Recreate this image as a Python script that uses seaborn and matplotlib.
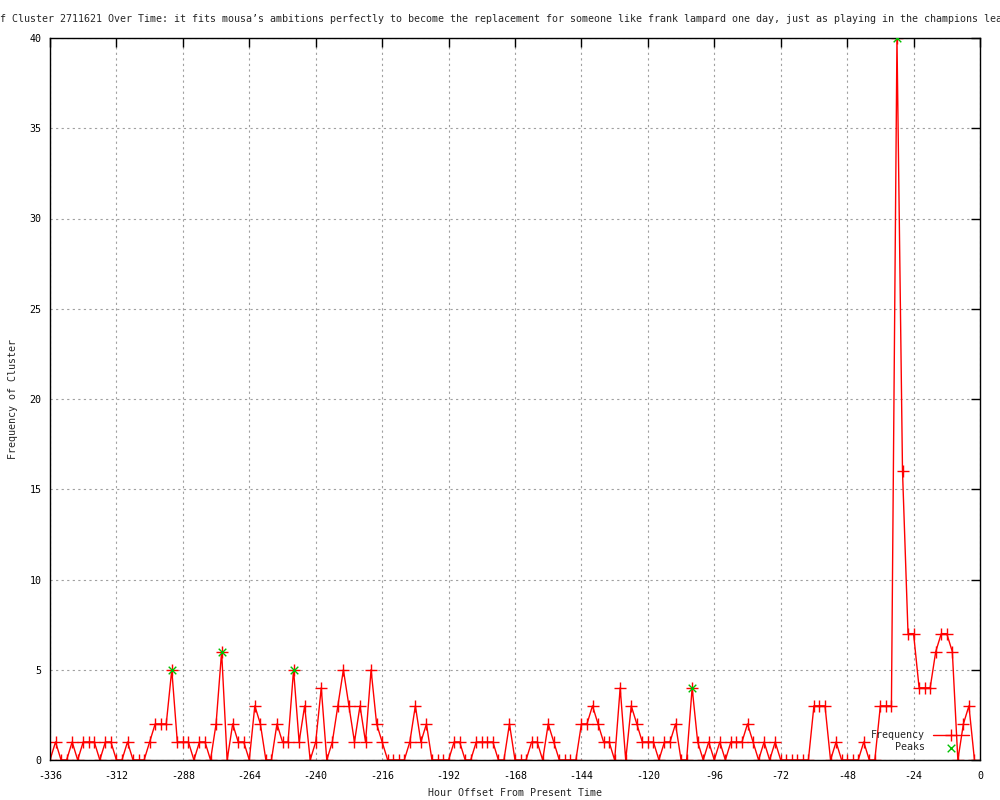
import matplotlib
matplotlib.use("Agg")
import matplotlib.pyplot as plt
import numpy as np
import seaborn as sns

# hour offsets (2 hour bins) and counts
hours = np.arange(-336, 0, 2)
freq = [
    0, 1, 0, 0, 1, 0, 1, 1, 1, 0, 1, 1, 0, 0, 1, 0, 0, 0, 1, 2,
    2, 2, 5, 1, 1, 1, 0, 1, 1, 0, 2, 6, 0, 2, 1, 1, 0, 3, 2, 0,
    0, 2, 1, 1, 5, 1, 3, 0, 1, 4, 0, 1, 3, 5, 3, 1, 3, 1, 5, 2,
    1, 0, 0, 0, 0, 1, 3, 1, 2, 0, 0, 0, 0, 1, 1, 0, 0, 1, 1, 1,
    1, 0, 0, 2, 0, 0, 0, 1, 1, 0, 2, 1, 0, 0, 0, 0, 2, 2, 3, 2,
    1, 1, 0, 4, 0, 3, 2, 1, 1, 1, 0, 1, 1, 2, 0, 0, 4, 1, 0, 1,
    0, 1, 0, 1, 1, 1, 2, 1, 0, 1, 0, 1, 0, 0, 0, 0, 0, 0, 3, 3,
    3, 0, 1, 0, 0, 0, 0, 1, 0, 0, 3, 3, 3, 40, 16, 7, 7, 4, 4, 4,
    6, 7, 7, 6, 0, 2, 3, 0,
]
peak_hours = [-292, -274, -248, -104, -30]
peak_freq = [5, 6, 5, 4, 40]

x_ticks = list(range(-336, 1, 24))
y_ticks = list(range(0, 41, 5))

title = ("Frequency of Cluster 2711621 Over Time: it fits mousa\u2019s ambitions "
         "perfectly to become the replacement for someone like frank lampard "
         "one day, just as playing in the champions league")

sns.set_style("white")
plt.rcParams["font.family"] = ["DejaVu Sans Mono"]
plt.rcParams["font.size"] = 7.2
plt.rcParams["axes.unicode_minus"] = False

fig = plt.figure(figsize=(10, 8), dpi=100)
ax = fig.add_axes([0.05, 0.05, 0.93, 0.9025])

sns.lineplot(x=hours, y=freq, ax=ax, color="#ff0000", lw=1, marker="+",
             markersize=9, markeredgewidth=1, markeredgecolor="#ff0000",
             label="Frequency")
sns.scatterplot(x=peak_hours, y=peak_freq, ax=ax, color="#00c000", marker="x",
                s=30, linewidth=1, label="Peaks", zorder=5)

ax.set_xlim(-336, 0)
ax.set_ylim(0, 40)
ax.set_xticks(x_ticks)
ax.set_yticks(y_ticks)
ax.tick_params(direction="in", top=True, right=True, length=6.5, width=1,
               labelsize=7.2, colors="black")
ax.tick_params(axis="x", pad=8)
ax.tick_params(axis="y", pad=6)
ax.grid(True, linestyle=(0, (2, 3)), color="#a0a0a0", lw=0.8)
for s in ax.spines.values():
    s.set_color("black")
    s.set_linewidth(1)

ax.set_xlabel("Hour Offset From Present Time", fontsize=7.2, va="center")
ax.set_ylabel("Frequency of Cluster", fontsize=7.2, va="center")
ax.xaxis.set_label_coords(0.5, -0.046)
ax.yaxis.set_label_coords(-0.04, 0.5)

# the title is wider than the figure, so both ends run off like in the original
fig.text(-0.0665, 0.976, title, ha="left", va="center", fontsize=7.2)

ax.legend(loc="lower right", bbox_to_anchor=(0.992, 0.005), frameon=False,
          markerfirst=False, handlelength=3.6, borderaxespad=0,
          labelspacing=0.2, fontsize=7.2)

fig.savefig("out.png", dpi=100)
